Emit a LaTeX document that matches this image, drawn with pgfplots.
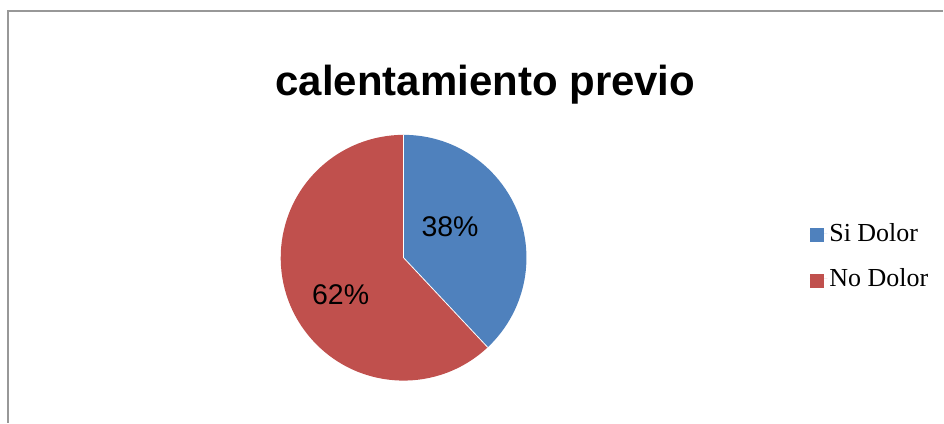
\documentclass[border=0pt]{standalone}
\usepackage{pgfplots}
\pgfplotsset{compat=1.18}
\usepackage{fontspec}
\setmainfont{Liberation Serif}
\newfontfamily\arial{Liberation Sans}
\definecolor{sBlue}{HTML}{4F81BD}
\definecolor{sRed}{HTML}{C0504D}
\definecolor{frameGray}{HTML}{989898}
\begin{document}
\begin{tikzpicture}
\begin{axis}[x=1pt,y=1pt,xmin=0,xmax=944,ymin=0,ymax=423,hide axis,clip=false,scale only axis,
  legend style={at={(axis cs:810.5,201.5)},anchor=north west,draw=none,fill=none,
    font=\fontsize{26}{30}\selectfont,row sep=22pt,inner sep=0pt,cells={anchor=west}},
  legend image code/.code={\fill[#1] (0pt,-9pt) rectangle (14pt,5pt); \path (0pt,0pt) -- (17.5pt,0pt);}]
\path (axis cs:0,0) rectangle (axis cs:944,423);
\addlegendimage{fill=sBlue,draw=none}
\addlegendentry{Si Dolor}
\addlegendimage{fill=sRed,draw=none}
\addlegendentry{No Dolor}
% data: Si Dolor 38, No Dolor 62
\pgfmathsetmacro\aA{90-38*3.6}
\pgfmathsetmacro\aB{\aA-62*3.6}
\fill[sBlue] (axis cs:404,165) -- ++(90:123pt) arc[start angle=90,end angle=\aA,radius=123pt] -- cycle;
\fill[sRed] (axis cs:404,165) -- ++(\aA:123pt) arc[start angle=\aA,end angle=\aB,radius=123pt] -- cycle;
\draw[white,line width=0.8pt] (axis cs:404,165) -- ++(90:123pt);
\draw[white,line width=0.8pt] (axis cs:404,165) -- ++(\aA:123pt);
\node[anchor=base,inner sep=0pt,font=\arial\fontsize{28.5}{32}\selectfont] at (axis cs:450.5,186.5) {38\%};
\node[anchor=base,inner sep=0pt,font=\arial\fontsize{28.5}{32}\selectfont] at (axis cs:341,118) {62\%};
\node[anchor=base,inner sep=0pt,font=\arial\bfseries\fontsize{42}{48}\selectfont] at (axis cs:486,327) {calentamiento previo};
\draw[frameGray,line width=2pt] (axis cs:8,0) -- (axis cs:8,412.3) -- (axis cs:944,412.3);
\end{axis}
\end{tikzpicture}
\end{document}
